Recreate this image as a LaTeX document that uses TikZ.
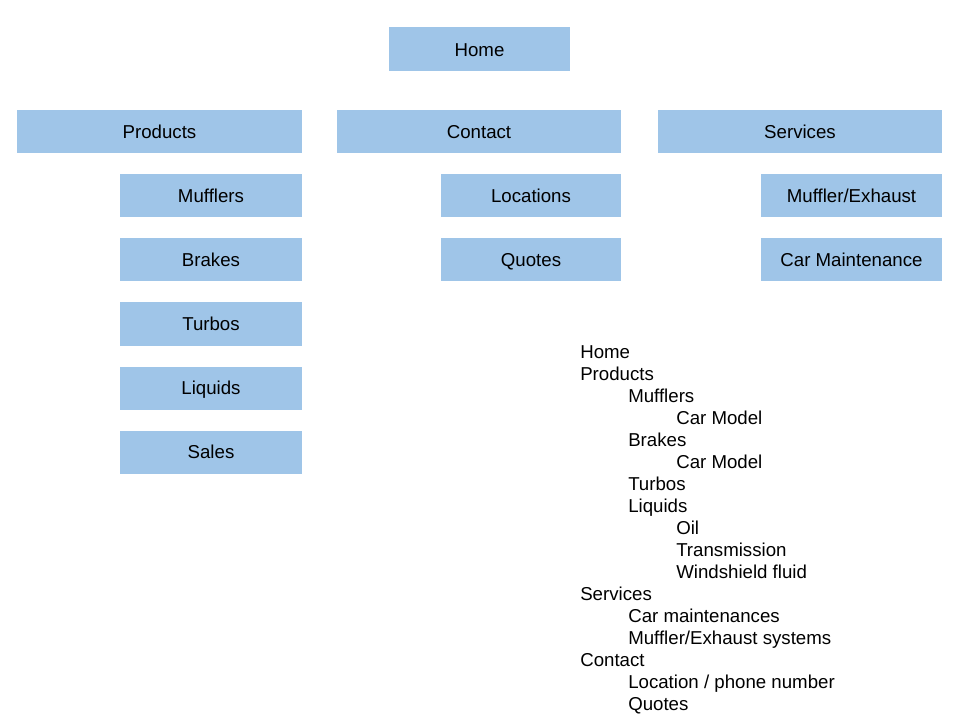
\documentclass[tikz,border=0pt]{standalone}
\usepackage{fontspec}
\setmainfont{Liberation Sans}
\begin{document}
\begin{tikzpicture}[x=0.75pt,y=-0.75pt,
  box/.style={fill=boxblue,draw=none,inner sep=0pt,text height=10pt,text depth=0pt,font=\fontsize{14pt}{16pt}\selectfont},
  lst/.style={anchor=base west,inner sep=0pt,font=\fontsize{14pt}{16pt}\selectfont}]
\definecolor{boxblue}{HTML}{9FC5E8}
\useasboundingbox (0,0) rectangle (960,720);
\newcommand{\bx}[6]{\node[box,minimum width={(#4-#2)*0.75pt},minimum height={(#5-#3)*0.75pt}] (#1) at ({(#2+#4)/2},{(#3+#5)/2+0.5}) {#6};}
\bx{home}{389}{27}{570}{71}{Home}
\bx{products}{17}{110}{302}{153}{Products}
\bx{contact}{337}{110}{621}{153}{Contact}
\bx{services}{658}{110}{942}{153}{Services}
\bx{mufflers}{120}{174}{302}{217}{Mufflers}
\bx{brakes}{120}{238}{302}{281}{Brakes}
\bx{turbos}{120}{302}{302}{345}{Turbos}
\bx{liquids}{120}{366}{302}{409}{Liquids}
\bx{sales}{120}{430}{302}{473}{Sales}
\bx{locations}{441}{174}{621}{217}{Locations}
\bx{quotes}{441}{238}{621}{281}{Quotes}
\bx{mufex}{761}{174}{942}{217}{Muffler/Exhaust}
\bx{carm}{761}{238}{942}{281}{Car Maintenance}
\node[lst] (l1) at (580,358) {Home};
\node[lst] (l2) at (580,380) {Products};
\node[lst] (l3) at (628,402) {Mufflers};
\node[lst] (l4) at (676,424) {Car Model};
\node[lst] (l5) at (628,446) {Brakes};
\node[lst] (l6) at (676,468) {Car Model};
\node[lst] (l7) at (628,490) {Turbos};
\node[lst] (l8) at (628,512) {Liquids};
\node[lst] (l9) at (676,534) {Oil};
\node[lst] (l10) at (676,556) {Transmission};
\node[lst] (l11) at (676,578) {Windshield fluid};
\node[lst] (l12) at (580,600) {Services};
\node[lst] (l13) at (628,622) {Car maintenances};
\node[lst] (l14) at (628,644) {Muffler/Exhaust systems};
\node[lst] (l15) at (580,666) {Contact};
\node[lst] (l16) at (628,688) {Location / phone number};
\node[lst] (l17) at (628,710) {Quotes};
\end{tikzpicture}
\end{document}
